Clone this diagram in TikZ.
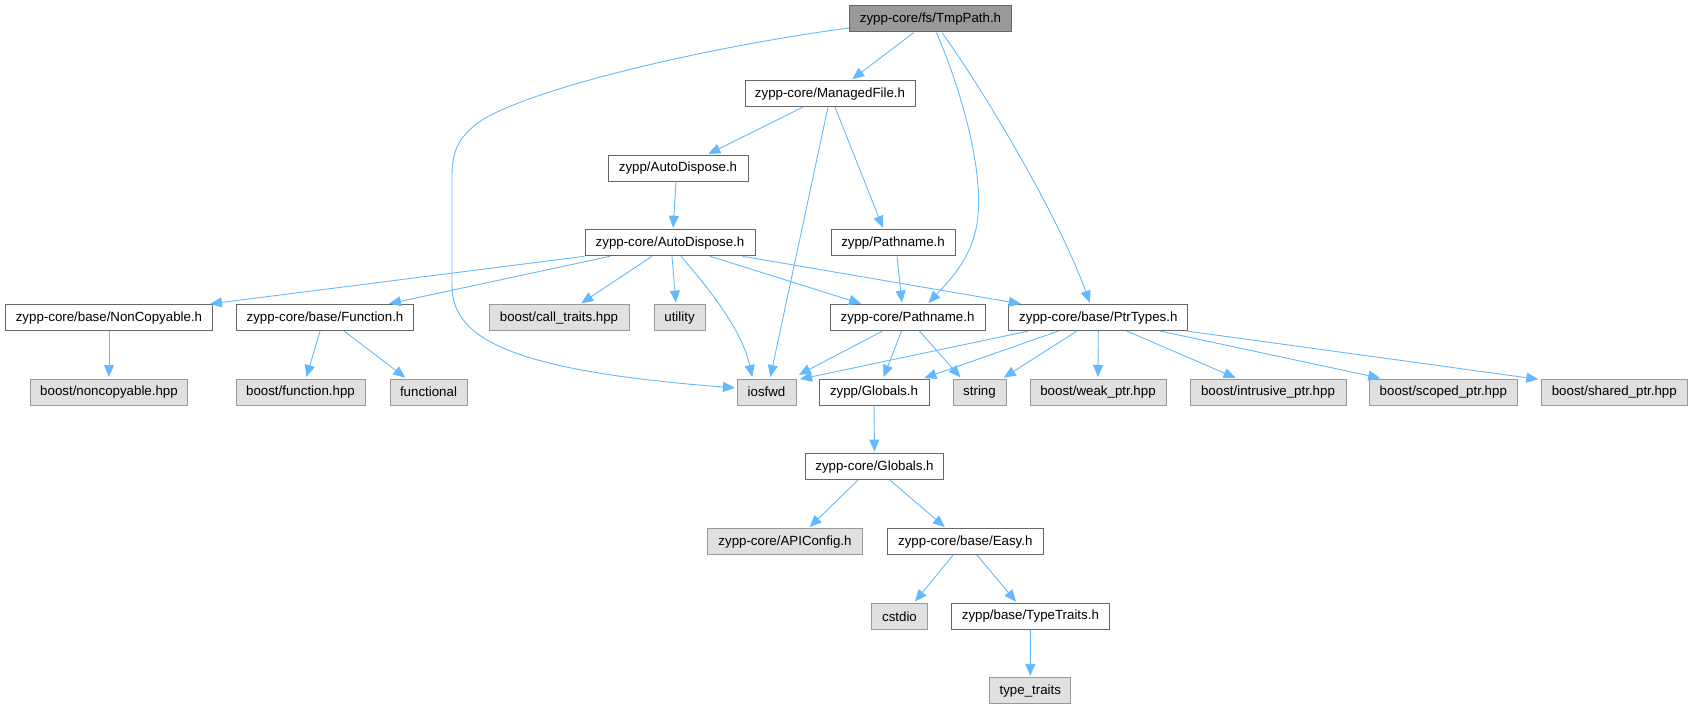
\documentclass[tikz,border=0pt]{standalone}
\usepackage{fontspec}
\setmainfont{Liberation Sans}
\usetikzlibrary{arrows.meta,calc}
\definecolor{edgec}{HTML}{63B8FF}
\definecolor{bdark}{HTML}{666666}
\definecolor{blight}{HTML}{999999}
\definecolor{fgray}{HTML}{E0E0E0}
\definecolor{fdark}{HTML}{999999}
\tikzset{
  base/.style={rectangle, inner sep=0pt, minimum height=26pt, line width=1pt, font=\fontsize{13.3}{16}\selectfont, text=black},
  wbox/.style={base, draw=bdark, fill=white},
  gbox/.style={base, draw=blight, fill=fgray},
  rootbox/.style={base, draw=bdark, fill=fdark},
  edge/.style={draw=edgec, line width=0.9pt, shorten >=1.5pt, -{Triangle[length=12pt,width=10pt]}}
}
\begin{document}
\begin{tikzpicture}[x=1pt,y=-1pt]
\useasboundingbox (0,0) rectangle (1692,709);
% rows
\node[rootbox, minimum width=162] (tmp) at (930.5,19) {zypp-core/fs/TmpPath.h};
\node[wbox, minimum width=170] (mf) at (830,93.6) {zypp-core/ManagedFile.h};
\node[wbox, minimum width=140] (zad) at (678,168.2) {zypp/AutoDispose.h};
\node[wbox, minimum width=170] (cad) at (670,242.8) {zypp-core/AutoDispose.h};
\node[wbox, minimum width=124] (zpn) at (893,242.8) {zypp/Pathname.h};
\node[wbox, minimum width=207] (nc) at (109,317.6) {zypp-core/base/NonCopyable.h};
\node[wbox, minimum width=177] (fn) at (325,317.6) {zypp-core/base/Function.h};
\node[gbox, minimum width=140] (ct) at (559,317.6) {boost/call\_traits.hpp};
\node[gbox, minimum width=51] (ut) at (679.5,317.6) {utility};
\node[wbox, minimum width=155] (cpn) at (907.5,317.6) {zypp-core/Pathname.h};
\node[wbox, minimum width=178.7] (pt) at (1098.3,317.6) {zypp-core/base/PtrTypes.h};
\node[gbox, minimum width=157] (nch) at (109,392) {boost/noncopyable.hpp};
\node[gbox, minimum width=129] (fh) at (300.5,392) {boost/function.hpp};
\node[gbox, minimum width=77] (fl) at (428.5,392) {functional};
\node[gbox, minimum width=59] (io) at (766.5,392) {iosfwd};
\node[wbox, minimum width=110] (zg) at (874,392) {zypp/Globals.h};
\node[gbox, minimum width=53] (st) at (979.5,392) {string};
\node[gbox, minimum width=136] (wp) at (1098,392) {boost/weak\_ptr.hpp};
\node[gbox, minimum width=156] (ip) at (1268,392) {boost/intrusive\_ptr.hpp};
\node[gbox, minimum width=148] (sp) at (1443.3,392) {boost/scoped\_ptr.hpp};
\node[gbox, minimum width=146] (shp) at (1614.3,392) {boost/shared\_ptr.hpp};
\node[wbox, minimum width=138] (cg) at (874.5,466.6) {zypp-core/Globals.h};
\node[gbox, minimum width=155] (api) at (785,541.6) {zypp-core/APIConfig.h};
\node[wbox, minimum width=156] (ez) at (965.3,541.6) {zypp-core/base/Easy.h};
\node[gbox, minimum width=56] (cs) at (899.5,616.3) {cstdio};
\node[wbox, minimum width=158] (tt) at (1030.4,616.3) {zypp/base/TypeTraits.h};
\node[gbox, minimum width=81] (tts) at (1030.3,690.8) {type\_traits};
% edges
\draw[edge] ($(tmp.south)+(-16.5,0)$) -- ($(mf.north)+(21,0)$);
\draw[edge] ($(tmp.west)+(0,9)$) .. controls (720,45) and (540,85) .. (482,120)
  .. controls (460,135) and (452,150) .. (452,175) -- (452,285)
  .. controls (452,335) and (500,370) .. ($(io.west)+(0,-4)$);
\draw[edge] ($(tmp.south)+(6,0)$) .. controls (965,100) and (982,170) .. (978,215)
  .. controls (975,255) and (950,280) .. ($(cpn.north)+(20,0)$);
\draw[edge] ($(tmp.south)+(11.5,0)$) .. controls (990,100) and (1060,220) .. ($(pt.north)+(-8,0)$);
\draw[edge] ($(mf.south)+(-27,0)$) -- ($(zad.north)+(29,0)$);
\draw[edge] ($(mf.south)+(-2,0)$) -- ($(io.north)+(3.5,0)$);
\draw[edge] ($(mf.south)+(5,0)$) -- ($(zpn.north)+(-9.5,0)$);
\draw[edge] ($(zad.south)+(-2,0)$) -- ($(cad.north)+(3,0)$);
\draw[edge] (cad.south west) -- ($(nc.north)+(99.5,0)$);
\draw[edge] ($(cad.south)+(-60,0)$) -- ($(fn.north)+(62.5,0)$);
\draw[edge] ($(cad.south)+(-18,0)$) -- ($(ct.north)+(21,0)$);
\draw[edge] ($(cad.south)+(2,0)$) -- ($(ut.north)+(-3.5,0)$);
\draw[edge] ($(cad.south)+(11,0)$) .. controls (710,290) and (742,330) .. ($(io.north)+(-14,0)$);
\draw[edge] ($(cad.south)+(40,0)$) -- ($(cpn.north)+(-45,0)$);
\draw[edge] ($(cad.south)+(72.5,0)$) -- ($(pt.north)+(-76,0)$);
\draw[edge] ($(zpn.south)+(4,0)$) -- ($(cpn.north)+(-5.5,0)$);
\draw[edge] ($(cpn.south)+(-25,0)$) -- ($(io.north east)+(1,-3)$);
\draw[edge] ($(cpn.south)+(-6,0)$) -- ($(zg.north)+(9,0)$);
\draw[edge] ($(cpn.south)+(12,0)$) -- ($(st.north)+(-18,0)$);
\draw[edge] ($(pt.south)+(-70,0)$) -- ($(io.north east)+(2,1)$);
\draw[edge] ($(pt.south)+(-40,0)$) -- ($(zg.north)+(49,0)$);
\draw[edge] ($(pt.south)+(-21.5,0)$) -- ($(st.north)+(23,0)$);
\draw[edge] (pt.south) -- (wp.north);
\draw[edge] ($(pt.south)+(28.5,0)$) -- ($(ip.north)+(-31,0)$);
\draw[edge] ($(pt.south)+(62,0)$) -- ($(sp.north)+(-61.5,0)$);
\draw[edge] ($(pt.south east)+(-1,0)$) -- ($(shp.north west)+(-1,1)$);
\draw[edge] (nc.south) -- (nch.north);
\draw[edge] ($(fn.south)+(-5,0)$) -- ($(fh.north)+(5.5,0)$);
\draw[edge] ($(fn.south)+(19,0)$) -- ($(fl.north)+(-22,0)$);
\draw[edge] (zg.south) -- (cg.north);
\draw[edge] ($(cg.south)+(-16.5,0)$) -- ($(api.north)+(23.5,0)$);
\draw[edge] ($(cg.south)+(15.5,0)$) -- ($(ez.north)+(-19.3,0)$);
\draw[edge] ($(ez.south)+(-12.3,0)$) -- ($(cs.north)+(14.5,0)$);
\draw[edge] ($(ez.south)+(11.7,0)$) -- ($(tt.north)+(-13.4,0)$);
\draw[edge] (tt.south) -- (tts.north);
\end{tikzpicture}
\end{document}
